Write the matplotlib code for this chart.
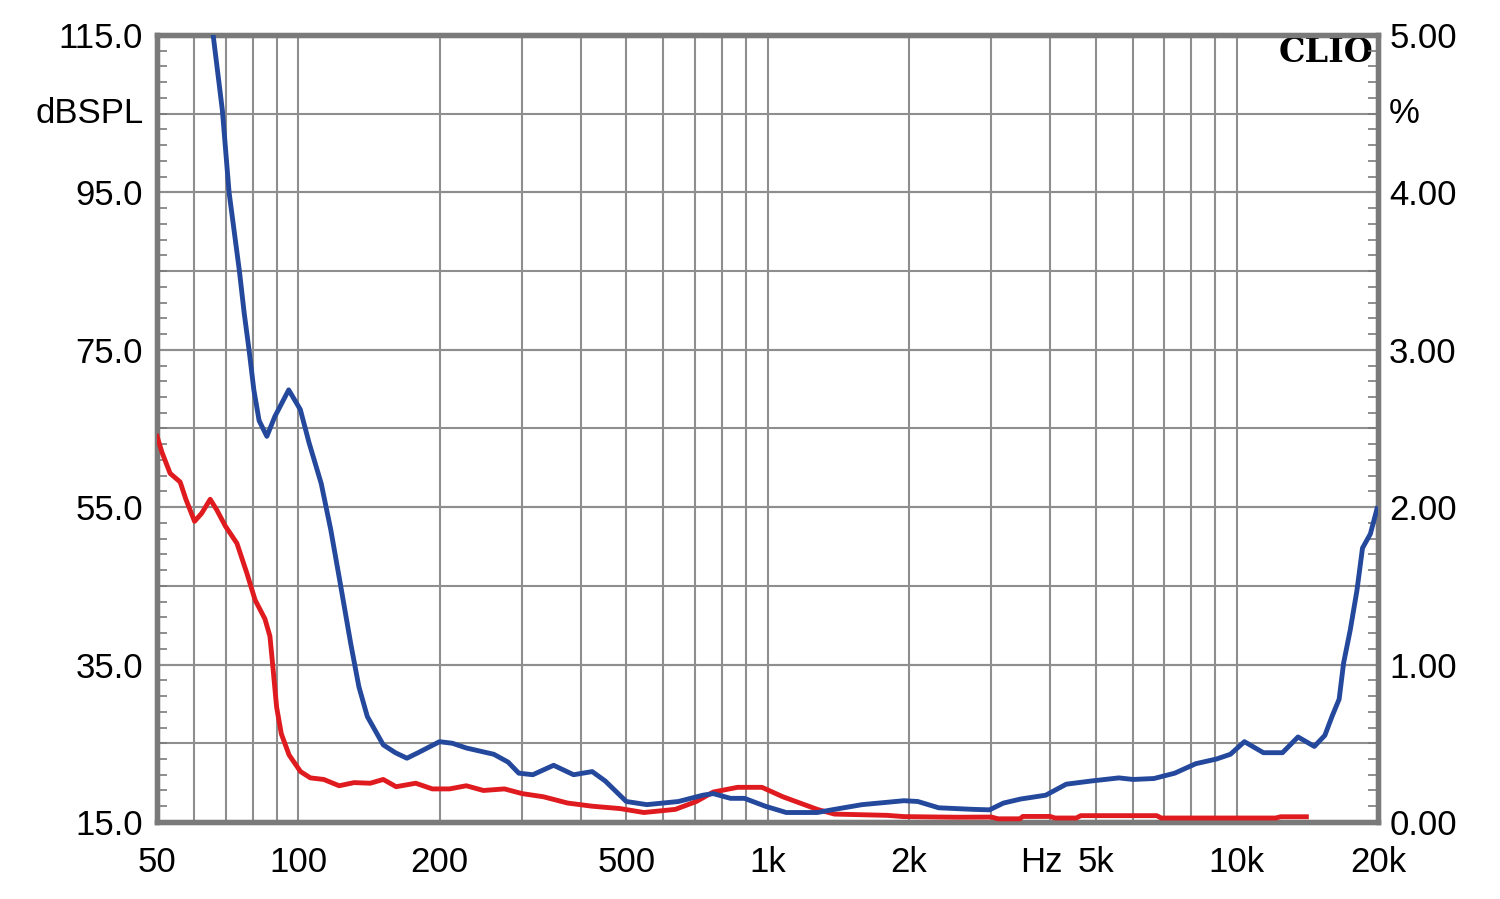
#!/usr/bin/env python3
"""
Distortion plot (CLIO style): two curves in %, log frequency axis,
dBSPL scale on the left and % scale on the right.
"""

import matplotlib
matplotlib.use("Agg")
import matplotlib.pyplot as plt
from matplotlib.ticker import FixedLocator, NullLocator

# ---- data (frequency in Hz, value in %) ----
blue_freq = [64.0, 65.9, 68.9, 71.2, 73.1, 74.9, 76.7, 78.6, 80.4, 82.5,
             85.7, 89.1, 95.4, 101, 105.4, 111.9, 117.3, 123.2, 129.3, 134.6,
             140.3, 151.7, 161, 170.4, 180, 200, 213, 228, 261, 280,
             295, 316, 350, 386, 423, 451, 500, 553, 646, 728,
             766, 834, 893, 989, 1096, 1276, 1389, 1590, 1953, 2090,
             2316, 2743, 2972, 3182, 3467, 3916, 4331, 4889, 5608, 6010,
             6659, 7377, 8174, 9055, 9693, 10381, 11396, 12515, 13503, 14631,
             15405, 15954, 16523, 16890, 17450, 18030, 18530, 19260, 19900]
blue_pct = [5.3, 4.99, 4.52, 4.0, 3.74, 3.50, 3.23, 2.99, 2.745, 2.55,
            2.45, 2.575, 2.745, 2.62, 2.41, 2.15, 1.855, 1.495, 1.135, 0.86,
            0.67, 0.49, 0.44, 0.405, 0.44, 0.51, 0.50, 0.47, 0.43, 0.38,
            0.31, 0.30, 0.36, 0.30, 0.32, 0.26, 0.13, 0.11, 0.13, 0.17,
            0.18, 0.15, 0.15, 0.10, 0.06, 0.06, 0.08, 0.11, 0.135, 0.13,
            0.09, 0.08, 0.077, 0.12, 0.146, 0.17, 0.24, 0.26, 0.28, 0.27,
            0.276, 0.31, 0.37, 0.40, 0.43, 0.51, 0.44, 0.44, 0.54, 0.48,
            0.55, 0.67, 0.78, 1.01, 1.22, 1.47, 1.74, 1.83, 1.99]

red_freq = [50, 51.2, 53.3, 56.0, 57.6, 60.1, 62.2, 64.9, 67.1, 69.9,
            74.0, 77.7, 80.9, 84.9, 87.0, 88.4, 89.9, 92.0, 95.6, 101.1,
            106.1, 113.3, 122.2, 131.5, 142.3, 151.7, 161.6, 177.9, 193, 210,
            228, 248, 275, 300, 333, 375, 423, 485, 545, 636,
            705, 766, 863, 973, 1078, 1276, 1389, 1797, 1953, 2530,
            3000, 3100, 3450, 3500, 4000, 4100, 4550, 4650, 6750, 6900,
            12100, 12400, 14070]
red_pct = [2.45, 2.35, 2.215, 2.16, 2.05, 1.91, 1.96, 2.05, 1.98, 1.88,
           1.77, 1.58, 1.41, 1.29, 1.18, 0.965, 0.73, 0.56, 0.425, 0.32,
           0.28, 0.27, 0.23, 0.25, 0.246, 0.27, 0.224, 0.246, 0.21, 0.21,
           0.23, 0.20, 0.21, 0.18, 0.16, 0.12, 0.10, 0.085, 0.06, 0.08,
           0.13, 0.19, 0.22, 0.22, 0.16, 0.08, 0.05, 0.042, 0.034, 0.03,
           0.031, 0.02, 0.02, 0.035, 0.035, 0.025, 0.025, 0.04, 0.04, 0.025,
           0.025, 0.033, 0.033]

# ---- axes / labels ----
x_ticks = [50, 100, 200, 500, 1000, 2000, 5000, 10000, 20000]
x_labels = ["50", "100", "200", "500", "1k", "2k", "5k", "10k", "20k"]
db_ticks = [15, 35, 55, 75, 95, 115]
pct_ticks = [0, 1, 2, 3, 4, 5]
x_grid = ([60, 70, 80, 90] + list(range(100, 1000, 100))
          + list(range(1000, 10000, 1000)) + [10000])
db_grid = list(range(25, 115, 10))

GRID = "#8e8e8e"
FRAME = "#7a7a7a"
BLUE = "#24489c"
RED = "#e01b1f"
FS = 25

plt.rcParams["font.family"] = ["Liberation Sans", "DejaVu Sans"]

fig = plt.figure(figsize=(15, 8.99), dpi=100)
ax = fig.add_axes([0.1047, 0.0857, 0.8140, 0.8754])
ax2 = ax.twinx()

ax.set_xscale("log")
ax.set_xlim(50, 20000)
ax.set_ylim(15, 115)
ax2.set_ylim(0, 5)

for f in x_grid:
    ax.axvline(f, color=GRID, lw=1.5, zorder=1)
for v in db_grid + db_ticks:
    ax.axhline(v, color=GRID, lw=1.5, zorder=1)

ax.xaxis.set_major_locator(FixedLocator(x_ticks))
ax.xaxis.set_minor_locator(NullLocator())
ax.set_xticklabels(x_labels)
ax.tick_params(axis="x", which="major", length=0, pad=17, labelsize=FS)

ax.yaxis.set_major_locator(FixedLocator(db_ticks))
ax.set_yticklabels([f"{v:.1f}" for v in db_ticks])
ax.yaxis.set_minor_locator(FixedLocator(list(range(17, 115, 2))))
ax.tick_params(axis="y", which="major", length=0, pad=10, labelsize=FS)
ax.tick_params(axis="y", which="minor", direction="in", length=7,
               width=1.2, color=FRAME)

ax2.yaxis.set_major_locator(FixedLocator(pct_ticks))
ax2.set_yticklabels([f"{v:.2f}" for v in pct_ticks])
ax2.yaxis.set_minor_locator(FixedLocator([i / 10 for i in range(1, 50)]))
ax2.tick_params(axis="y", which="major", length=0, pad=8, labelsize=FS)
ax2.tick_params(axis="y", which="minor", direction="in", length=7,
                width=1.2, color=FRAME)

for a in (ax, ax2):
    for s in a.spines.values():
        s.set_color(FRAME)
        s.set_linewidth(3.8)

ax2.plot(red_freq, red_pct, color=RED, lw=3.5, zorder=3)
ax2.plot(blue_freq, blue_pct, color=BLUE, lw=3.5, zorder=4)

# unit labels and logo
ax.text(-0.0105, 105, "dBSPL", transform=ax.get_yaxis_transform(),
        ha="right", va="center", fontsize=FS)
ax2.text(1.0085, 4.5, "%", transform=ax2.get_yaxis_transform(),
         ha="left", va="center", fontsize=FS)
ax.text(3830, -0.031, "Hz", transform=ax.get_xaxis_transform(),
        ha="center", va="top", fontsize=FS)
ax.text(0.9965, 0.978, "CLIO", transform=ax.transAxes, ha="right",
        va="center", fontsize=24, fontweight="bold", family="DejaVu Serif",
        zorder=5)

fig.savefig("out.png", dpi=100)
